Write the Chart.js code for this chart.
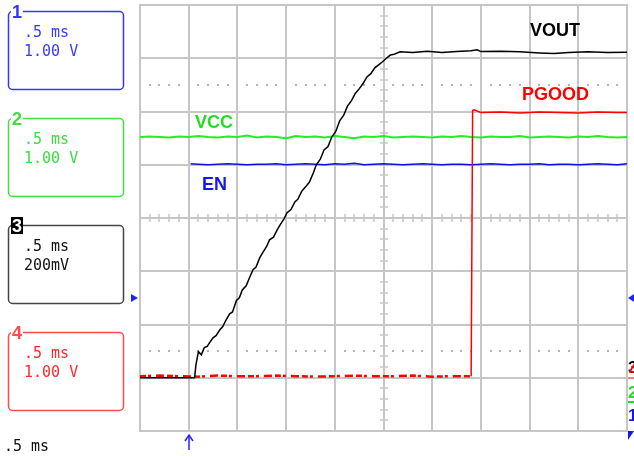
<!DOCTYPE html>
<html>
<head>
<meta charset="utf-8">
<script src="https://cdn.jsdelivr.net/npm/chart.js@4.4.1/dist/chart.umd.min.js"></script>
<style>
  html, body { margin: 0; padding: 0; background: #fff; }
  canvas { display: block; }
</style>
</head>
<body>
<canvas id="scope" width="634" height="457"></canvas>
<script>
// time in ms, 0 = trigger point; .5 ms/div, 10 divisions
const timeMin = -0.5;
const timeMax = 4.5;

// channel settings (volts per division, ground position in divisions from centre)
const channels   = ['1', '2', '3', '4'];
const voltsPerDiv = [1.0, 1.0, 0.2, 1.0];
const groundDiv   = [-3.7, -3.3, -3.0, -3.0];

// CH3 : VOUT
const voutTime = [-0.5, 0.06, 0.075, 0.10, 0.13, 0.16, 0.19, 0.22, 0.25, 0.28, 0.32, 0.35, 0.38, 0.42, 0.45, 0.49,
  0.52, 0.55, 0.59, 0.62, 0.66, 0.69, 0.73, 0.76, 0.80, 0.83, 0.87, 0.91, 0.94, 0.98, 1.01, 1.05, 1.09, 1.12,
  1.16, 1.20, 1.24, 1.28, 1.31, 1.35, 1.39, 1.43, 1.47, 1.51, 1.55, 1.59, 1.63, 1.67, 1.71, 1.75, 1.79, 1.83,
  1.87, 1.91, 1.95, 1.99, 2.03, 2.07, 2.11, 2.17, 2.30, 2.45, 2.60, 2.75, 2.90, 2.96, 3.00, 3.20, 3.40, 3.60,
  3.75, 3.90, 4.10, 4.30, 4.50];
const voutVolts = [0.0, 0.0, 0.05, 0.098, 0.086, 0.113, 0.118, 0.135, 0.150, 0.158, 0.180, 0.192, 0.215, 0.240, 0.247, 0.290,
  0.300, 0.330, 0.345, 0.372, 0.406, 0.415, 0.451, 0.470, 0.493, 0.518, 0.528, 0.556, 0.575, 0.598, 0.620, 0.632, 0.660, 0.670,
  0.700, 0.717, 0.735, 0.770, 0.800, 0.820, 0.856, 0.868, 0.905, 0.925, 0.965, 0.985, 1.020, 1.040, 1.068, 1.085, 1.105, 1.130,
  1.142, 1.164, 1.175, 1.187, 1.200, 1.212, 1.215, 1.224, 1.222, 1.226, 1.222, 1.225, 1.228, 1.232, 1.225, 1.226, 1.224, 1.220,
  1.218, 1.222, 1.224, 1.222, 1.223];

// CH2 : VCC
const vccTime = [-0.5, -0.4, -0.3, -0.2, -0.1, 0.0, 0.1, 0.2, 0.3, 0.4, 0.5, 0.6, 0.7, 0.8, 0.9, 1.0, 1.1, 1.2, 1.3, 1.4,
  1.5, 1.6, 1.7, 1.8, 1.9, 2.0, 2.1, 2.2, 2.3, 2.4, 2.5, 2.6, 2.7, 2.8, 2.9, 3.0, 3.1, 3.2, 3.3, 3.4,
  3.5, 3.6, 3.7, 3.8, 3.9, 4.0, 4.1, 4.2, 4.3, 4.4, 4.5];
const vccVolts = [4.82, 4.83, 4.82, 4.81, 4.83, 4.82, 4.84, 4.82, 4.81, 4.83, 4.82, 4.85, 4.81, 4.83, 4.82, 4.80, 4.84, 4.82, 4.83, 4.81,
  4.84, 4.82, 4.80, 4.83, 4.82, 4.84, 4.81, 4.82, 4.83, 4.82, 4.81, 4.83, 4.82, 4.84, 4.82, 4.81, 4.83, 4.82, 4.82, 4.84,
  4.81, 4.82, 4.83, 4.82, 4.81, 4.83, 4.82, 4.84, 4.82, 4.81, 4.82];

// CH1 : EN
const enTime = [0.02, 0.1, 0.2, 0.3, 0.4, 0.5, 0.6, 0.7, 0.8, 0.9, 1.0, 1.1, 1.2, 1.3, 1.4, 1.5, 1.6, 1.7, 1.8, 1.9,
  2.0, 2.1, 2.2, 2.3, 2.4, 2.5, 2.6, 2.7, 2.8, 2.9, 3.0, 3.1, 3.2, 3.3, 3.4, 3.5, 3.6, 3.7, 3.8, 3.9,
  4.0, 4.1, 4.2, 4.3, 4.4, 4.5];
const enVolts = [4.72, 4.71, 4.70, 4.71, 4.72, 4.71, 4.70, 4.71, 4.71, 4.72, 4.70, 4.71, 4.72, 4.71, 4.70, 4.72, 4.71, 4.73, 4.70, 4.71,
  4.72, 4.71, 4.70, 4.71, 4.72, 4.71, 4.70, 4.71, 4.71, 4.70, 4.71, 4.72, 4.71, 4.70, 4.71, 4.71, 4.72, 4.70, 4.71, 4.71,
  4.70, 4.71, 4.72, 4.71, 4.70, 4.72];

// CH4 : PGOOD
const pgoodTime = [-0.5, -0.3, -0.1, 0.1, 0.3, 0.5, 0.7, 0.9, 1.1, 1.3, 1.5, 1.7, 1.9, 2.1, 2.3, 2.5, 2.7, 2.9, 2.915,
  2.93, 3.0, 3.2, 3.4, 3.6, 3.8, 4.0, 4.2, 4.4, 4.5];
const pgoodVolts = [0.03, 0.04, 0.03, 0.02, 0.04, 0.03, 0.03, 0.04, 0.03, 0.02, 0.03, 0.04, 0.03, 0.03, 0.04, 0.02, 0.03, 0.03, 5.02,
  5.03, 4.98, 4.99, 4.97, 4.99, 4.98, 4.97, 4.99, 4.98, 4.98];

function pts(t, v) { return t.map((x, i) => ({ x: x, y: v[i] })); }

function chAxis(i) {
  return {
    type: 'linear', axis: 'y', display: false,
    min: (-4 - groundDiv[i]) * voltsPerDiv[i],
    max: (4 - groundDiv[i]) * voltsPerDiv[i]
  };
}

const GRID = '#c6c6c6';

// graticule: major grid, centre-line minor ticks, dotted 10/90% lines
const graticule = {
  id: 'graticule',
  beforeDatasetsDraw(chart) {
    const ctx = chart.ctx, x = chart.scales.x, d = chart.scales.div;
    ctx.save();
    ctx.strokeStyle = GRID;
    ctx.lineWidth = 2;
    ctx.beginPath();
    for (let i = 0; i <= 10; i++) {
      const px = Math.round(x.getPixelForValue(timeMin + i * 0.5));
      ctx.moveTo(px, d.getPixelForValue(4)); ctx.lineTo(px, d.getPixelForValue(-4));
    }
    for (let j = -4; j <= 4; j++) {
      const py = Math.round(d.getPixelForValue(j));
      ctx.moveTo(x.getPixelForValue(timeMin) - 1, py); ctx.lineTo(x.getPixelForValue(timeMax) + 1, py);
    }
    ctx.stroke();
    // minor ticks on centre lines
    ctx.lineWidth = 1.5;
    ctx.beginPath();
    const cx = Math.round(x.getPixelForValue(2.0)), cy = Math.round(d.getPixelForValue(0));
    for (let k = 0; k <= 50; k++) {
      if (k % 5 === 0) continue;
      const px = Math.round(x.getPixelForValue(timeMin + k * 0.1));
      ctx.moveTo(px, cy - 4); ctx.lineTo(px, cy + 4);
    }
    for (let k = 0; k <= 40; k++) {
      if (k % 5 === 0) continue;
      const py = Math.round(d.getPixelForValue(-4 + k * 0.2));
      ctx.moveTo(cx - 4, py); ctx.lineTo(cx + 4, py);
    }
    ctx.stroke();
    // dotted lines at +/-2.5 div
    ctx.fillStyle = '#b4b4b4';
    [2.5, -2.5].forEach(lv => {
      const py = Math.round(d.getPixelForValue(lv));
      for (let k = 1; k < 50; k++) {
        if (k % 5 === 0) continue;
        const px = Math.round(x.getPixelForValue(timeMin + k * 0.1));
        ctx.fillRect(px - 1, py - 1, 2, 2);
      }
    });
    ctx.restore();
  }
};

// on-screen annotations: trace names, channel readouts, markers
const readouts = [
  { ch: '1', color: '#3535ff', text: '#3a3aff', top: 11, lines: ['.5 ms', '1.00 V'] },
  { ch: '2', color: '#44dd44', text: '#3ddd3d', top: 118, lines: ['.5 ms', '1.00 V'] },
  { ch: '3', color: '#444444', text: '#111111', top: 225, lines: ['.5 ms', '200mV'] },
  { ch: '4', color: '#ff4a4a', text: '#ff2a2a', top: 332, lines: ['.5 ms', '1.00 V'] }
];

const decor = {
  id: 'decor',
  afterDraw(chart) {
    const ctx = chart.ctx, x = chart.scales.x, d = chart.scales.div;
    ctx.save();
    // trace labels
    ctx.font = 'bold 18px "Liberation Sans", Arial, sans-serif';
    ctx.textBaseline = 'alphabetic';
    ctx.fillStyle = '#000000'; ctx.fillText('VOUT', 530, 36);
    ctx.fillStyle = '#ff0000'; ctx.fillText('PGOOD', 522, 100);
    ctx.fillStyle = '#22dd22'; ctx.fillText('VCC', 195, 128);
    ctx.fillStyle = '#1515ee'; ctx.fillText('EN', 202, 190);

    // channel readout boxes
    readouts.forEach(r => {
      ctx.strokeStyle = r.color;
      ctx.lineWidth = 1.5;
      ctx.beginPath();
      ctx.roundRect(8.5, r.top + 0.5, 115, 78, 4);
      ctx.stroke();
      ctx.fillStyle = '#ffffff';
      ctx.fillRect(11, r.top - 7, 12, 14);
      ctx.font = '15px "DejaVu Sans Mono", monospace';
      ctx.fillStyle = r.text;
      ctx.fillText(r.lines[0], 24, r.top + 26);
      ctx.fillText(r.lines[1], 24, r.top + 45);
      ctx.font = 'bold 18px "Liberation Sans", Arial, sans-serif';
      if (r.ch === '3') {
        ctx.fillStyle = '#000000';
        ctx.fillRect(11, r.top - 8, 12, 17);
        ctx.fillStyle = '#ffffff';
        ctx.fillText(r.ch, 12, r.top + 7);
      } else {
        ctx.fillStyle = r.color;
        ctx.fillText(r.ch, 12, r.top + 7);
      }
    });
    ctx.font = '15px "DejaVu Sans Mono", monospace';
    ctx.fillStyle = '#111111';
    ctx.fillText('.5 ms', 4, 451);

    // trigger markers
    const left = chart.chartArea.left, right = chart.chartArea.right, bottom = chart.chartArea.bottom;
    const trigY = Math.round(d.getPixelForValue(-1.5));
    ctx.fillStyle = '#2222ff';
    ctx.beginPath(); ctx.moveTo(left - 9, trigY - 4); ctx.lineTo(left - 2, trigY); ctx.lineTo(left - 9, trigY + 4); ctx.fill();
    ctx.beginPath(); ctx.moveTo(right + 7, trigY - 4); ctx.lineTo(right + 1, trigY); ctx.lineTo(right + 7, trigY + 4); ctx.fill();
    const tx = Math.round(x.getPixelForValue(0));
    ctx.strokeStyle = '#2222ff'; ctx.lineWidth = 1.5;
    ctx.beginPath(); ctx.moveTo(tx, bottom + 19); ctx.lineTo(tx, bottom + 5); ctx.stroke();
    ctx.beginPath(); ctx.moveTo(tx - 4, bottom + 10); ctx.lineTo(tx, bottom + 4); ctx.lineTo(tx + 4, bottom + 10); ctx.stroke();

    // ground reference markers on the right
    ctx.font = 'bold 17px "Liberation Sans", Arial, sans-serif';
    ctx.fillStyle = '#000000'; ctx.fillText('3', right + 1, 373);
    ctx.fillStyle = '#ff0000'; ctx.fillText('4', right + 2, 375);
    ctx.fillStyle = '#ff8080'; ctx.fillRect(right + 1, 377, 7, 2);
    ctx.fillStyle = '#22dd22'; ctx.fillText('2', right + 1, 398); ctx.fillRect(right + 1, 401, 7, 2);
    ctx.fillStyle = '#1515ee'; ctx.fillText('1', right + 1, 421);
    ctx.beginPath(); ctx.moveTo(right + 1, bottom + 9); ctx.lineTo(right + 1, bottom); ctx.lineTo(right + 7, bottom); ctx.fill();
    ctx.restore();
  }
};

new Chart(document.getElementById('scope'), {
  type: 'line',
  data: {
    datasets: [
      { label: 'VOUT', data: pts(voutTime, voutVolts), yAxisID: 'ch3', borderColor: '#000000', borderWidth: 1.5, order: 0 },
      { label: 'PGOOD', data: pts(pgoodTime, pgoodVolts), yAxisID: 'ch4', borderColor: '#ff0000', borderWidth: 1.5, order: 1,
        segment: {
          borderDash: c => (c.p0.parsed.y < 1 && c.p1.parsed.y < 1) ? [6, 2, 3, 5, 8, 3] : [],
          borderWidth: c => (c.p0.parsed.y < 1 && c.p1.parsed.y < 1) ? 2.5 : 1.5
        } },
      { label: 'EN', data: pts(enTime, enVolts), yAxisID: 'ch1', borderColor: '#1010e0', borderWidth: 1.5, order: 2 },
      { label: 'VCC', data: pts(vccTime, vccVolts), yAxisID: 'ch2', borderColor: '#22ee22', borderWidth: 2, order: 3 }
    ]
  },
  options: {
    responsive: false,
    animation: false,
    devicePixelRatio: 1,
    layout: { padding: { left: 140, right: 7, top: 5, bottom: 26 } },
    elements: { point: { radius: 0 }, line: { tension: 0 } },
    plugins: { legend: { display: false }, tooltip: { enabled: false } },
    scales: {
      x: { type: 'linear', axis: 'x', display: false, min: timeMin, max: timeMax },
      div: { type: 'linear', axis: 'y', display: false, min: -4, max: 4 },
      ch1: chAxis(0),
      ch2: chAxis(1),
      ch3: chAxis(2),
      ch4: chAxis(3)
    }
  },
  plugins: [graticule, decor]
});
</script>
</body>
</html>
